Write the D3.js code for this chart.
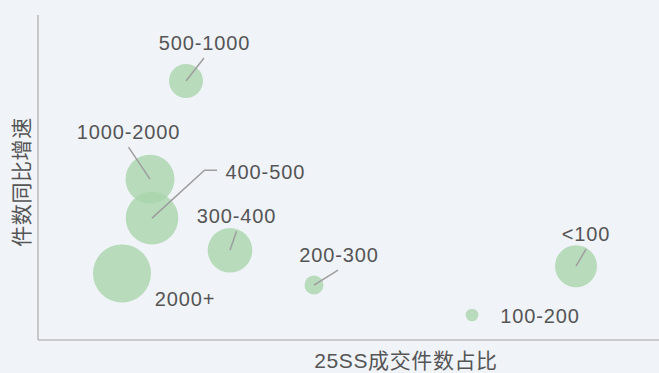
<!DOCTYPE html>
<html>
<head>
<meta charset="utf-8">
<script src="https://cdn.jsdelivr.net/npm/d3@7"></script>
<style>
  html, body { margin: 0; padding: 0; background: #f0f3f8; }
  svg { display: block; }
  text { font-family: "Liberation Sans", Arial, "Noto Sans CJK SC", sans-serif; fill: #555; }
</style>
</head>
<body>
<svg id="chart" width="659" height="373"></svg>
<script>
// Price bands (件单价区间)
const bands   = ["<100", "100-200", "200-300", "300-400", "400-500", "500-1000", "1000-2000", "2000+"];
// 25SS成交件数占比 (%)
const share   = [26.9, 21.7, 13.8, 9.6, 5.7, 7.4, 5.6, 4.2];
// 件数同比增速 (%)
const growth  = [-7.3, -22.3, -13.1, -2.4, 7.5, 49.7, 19.5, -9.5];
// 成交金额 (bubble size)
const amount  = [44.1, 4.0, 9.0, 49.7, 69.2, 28.9, 60.0, 84.1];

// Label placement relative to each bubble centre: text offset, anchor, leader path
const labelLayout = {
  "<100":      { dx: 10,   dy: -25,  anchor: "middle", leader: [[10, -17]] },
  "100-200":   { dx: 68,   dy: 8,    anchor: "middle", leader: null },
  "200-300":   { dx: 25,   dy: -23,  anchor: "middle", leader: [[24, -15]] },
  "300-400":   { dx: 6.5,  dy: -27.5,anchor: "middle", leader: [[6.5, -19]] },
  "400-500":   { dx: 73.5, dy: -39,  anchor: "start",  leader: [[52.5, -48], [65, -48]] },
  "500-1000":  { dx: 18.5, dy: -31,  anchor: "middle", leader: [[18, -23]] },
  "1000-2000": { dx: -21.5,dy: -40,  anchor: "middle", leader: [[-21.5, -32]] },
  "2000+":     { dx: 63,   dy: 33,   anchor: "middle", leader: null }
};

const svg = d3.select("#chart");
const plot = { left: 38, right: 659, top: 15, bottom: 340 };

const x = d3.scaleLinear().domain([0, 30]).range([plot.left, plot.left + 600]);
const y = d3.scaleLinear().domain([-30, 70]).range([plot.bottom, plot.top]);
const r = d3.scaleSqrt().domain([0, d3.max(amount)]).range([0, 29]);

const points = bands.map((b, i) => ({ band: b, share: share[i], growth: growth[i], amount: amount[i] }));

// Axis lines (no ticks)
svg.append("line")
  .attr("x1", plot.left).attr("x2", plot.left)
  .attr("y1", plot.top).attr("y2", plot.bottom)
  .attr("stroke", "#bdbdbd").attr("stroke-width", 1.6);
svg.append("line")
  .attr("x1", plot.left).attr("x2", plot.right)
  .attr("y1", plot.bottom).attr("y2", plot.bottom)
  .attr("stroke", "#bdbdbd").attr("stroke-width", 1.6);

// Bubbles, largest first so small ones stay on top
svg.append("g").selectAll("circle")
  .data(points.slice().sort((a, b) => b.amount - a.amount))
  .join("circle")
  .attr("cx", d => x(d.share))
  .attr("cy", d => y(d.growth))
  .attr("r", d => r(d.amount))
  .attr("fill", "#a9d4ab")
  .attr("fill-opacity", 0.8);

// Leader lines
const line = d3.line();
svg.append("g").selectAll("path")
  .data(points.filter(d => labelLayout[d.band].leader))
  .join("path")
  .attr("d", d => {
    const cx = x(d.share), cy = y(d.growth);
    const pts = [[cx, cy]].concat(labelLayout[d.band].leader.map(p => [cx + p[0], cy + p[1]]));
    return line(pts);
  })
  .attr("fill", "none")
  .attr("stroke", "#9e9e9e")
  .attr("stroke-width", 1.5);

// Band labels
svg.append("g").selectAll("text")
  .data(points)
  .join("text")
  .attr("x", d => x(d.share) + labelLayout[d.band].dx)
  .attr("y", d => y(d.growth) + labelLayout[d.band].dy)
  .attr("text-anchor", d => labelLayout[d.band].anchor)
  .attr("font-size", 20)
  .attr("letter-spacing", 0.9)
  .text(d => d.band);

// Axis titles
svg.append("text")
  .attr("x", 406).attr("y", 368)
  .attr("text-anchor", "middle")
  .attr("font-size", 21)
  .attr("letter-spacing", 0.6)
  .text("25SS成交件数占比");
svg.append("text")
  .attr("transform", "translate(29,182) rotate(-90)")
  .attr("text-anchor", "middle")
  .attr("font-size", 21)
  .attr("letter-spacing", 0.6)
  .text("件数同比增速");
</script>
</body>
</html>
